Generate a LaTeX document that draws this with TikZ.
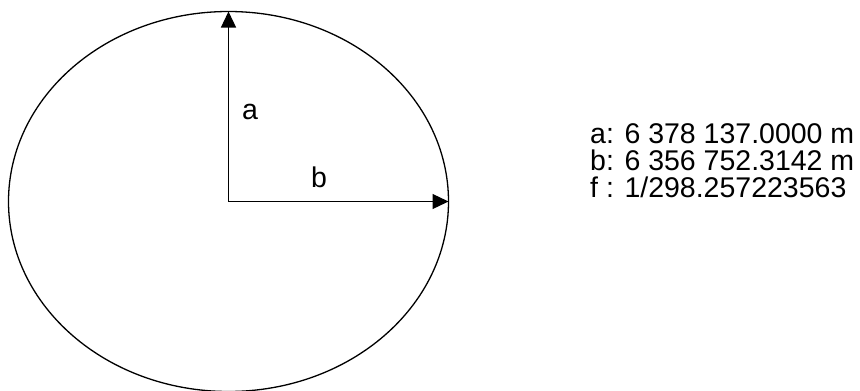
\documentclass[tikz,border=0pt]{standalone}
\usepackage{fontspec}
\setmainfont{Liberation Sans}
\usetikzlibrary{arrows.meta}

\begin{document}
\begin{tikzpicture}[x=1pt, y=-1pt,
			axis/.style={line width=1.3pt, -{Triangle[length=16pt, width=15pt]}},
			lbl/.style={inner sep=0pt, anchor=base, font=\fontsize{28.5}{30}\selectfont},
			info/.style={inner sep=0pt, anchor=base west, font=\fontsize{28.5}{30}\selectfont},
		]
		\useasboundingbox (0,0) rectangle (860,391);

		% --- Ellisse e semiassi ---
		\coordinate (ctr)  at (228.5, 201.5);
		\coordinate (atop) at (228.5, 11.5);
		\coordinate (bend) at (448.5, 201.5);
		\draw [line width=1.3pt] (ctr) ellipse [x radius=220, y radius=190];
		\draw [axis] (ctr) -- (atop);
		\draw [axis] (ctr) -- (bend);

		% --- Etichette dei semiassi ---
		\node (la) [lbl] at (250, 119) {a};
		\node (lb) [lbl] at (319, 187) {b};

		% --- Parametri ---
		\node (ia) [info] at (590, 143) {a: 6 378 137.0000 m};
		\node (ib) [info] at (590, 170) {b: 6 356 752.3142 m};
		\node (if) [info] at (590, 197) {f : 1/298.257223563};

	\end{tikzpicture}
\end{document}
